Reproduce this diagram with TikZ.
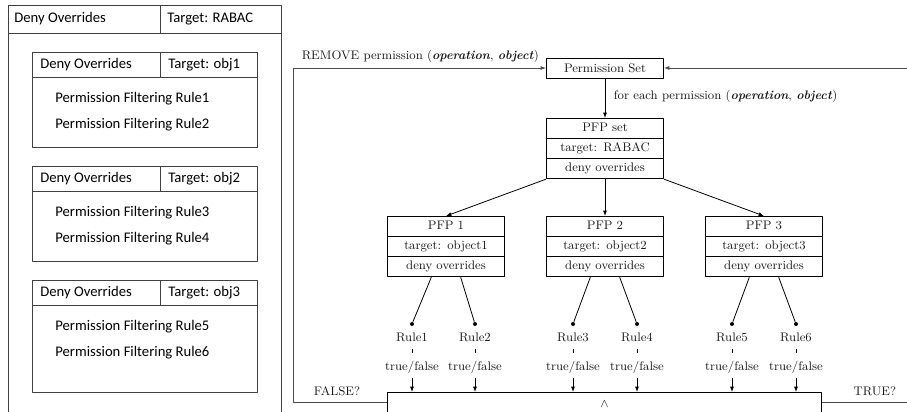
\documentclass[tikz,border=0pt]{standalone}
\usepackage{fontspec}
\newfontfamily\calibri{Carlito}
\usetikzlibrary{arrows.meta}
\usetikzlibrary{positioning}
\usetikzlibrary{shapes.multipart}
\tikzset{
  panel/.style={draw=black!75, line width=0.7pt},
  sanstext/.style={font=\calibri\fontsize{11}{13}\selectfont, inner sep=0pt},
  serif/.style={font=\fontsize{9.3}{11}\selectfont, text=black!90},
  setbox/.style={draw, serif, text width=88pt, align=center, inner xsep=0pt, minimum height=15pt},
  pfpbox/.style={draw, serif, rectangle split, rectangle split parts=3, text width=88pt, align=center, inner xsep=0pt, inner ysep=1.75pt},
  ruledot/.style={circle, fill, inner sep=0pt, minimum size=3pt}
}
\begin{document}
\begin{tikzpicture}[x=0.75pt,y=-0.75pt,line join=round,>={Latex[length=4pt,width=3pt]},line width=0.6pt]
\clip (0,0) rectangle (907,411);
\draw[panel] (8,5) rectangle (281,440);
\draw[panel] (8,33) -- (281,33) (160,5) -- (160,33);
\node[sanstext, anchor=west] (tophdr) at (14,19) {Deny Overrides};
\node[sanstext, anchor=west] (toptgt) at (167,19) {Target: RABAC};
\foreach \t/\n/\a/\b/\h in {52/1/1/2/95,166/2/3/4/95,280/3/5/6/112}{
  \draw[panel] (32,\t) rectangle (257,{\t+\h});
  \draw[panel] (32,{\t+25}) -- (257,{\t+25}) (160,\t) -- (160,{\t+25});
  \node[sanstext, anchor=west] (hdr\n) at (40,{\t+12.5}) {Deny Overrides};
  \node[sanstext, anchor=west] (tgt\n) at (168,{\t+12.5}) {Target: obj\n};
  \node[sanstext, anchor=west] (pfr\a) at (55,{\t+47}) {Permission Filtering Rule\a};
  \node[sanstext, anchor=west] (pfr\b) at (55,{\t+73}) {Permission Filtering Rule\b};
}
\node[setbox] (perm) at (605,68) {Permission Set};
\node[pfpbox, anchor=north] (pfpset) at (605,118) {\strut PFP set\nodepart{second}\strut target: RABAC\nodepart{third}\strut deny overrides};
\node[pfpbox, anchor=north] (pfp1) at (446,216) {\strut PFP 1\nodepart{second}\strut target: object1\nodepart{third}\strut deny overrides};
\node[pfpbox, anchor=north] (pfp2) at (605,216) {\strut PFP 2\nodepart{second}\strut target: object2\nodepart{third}\strut deny overrides};
\node[pfpbox, anchor=north] (pfp3) at (764,216) {\strut PFP 3\nodepart{second}\strut target: object3\nodepart{third}\strut deny overrides};
\node[draw, minimum width=326pt, minimum height=40pt, inner sep=0pt, anchor=north] (andbox) at (604.5,392) {};
\node[serif, anchor=north, inner sep=1pt] (andsym) at ([yshift=-5pt]andbox.north) {$\wedge$};
\node[serif, anchor=west] (removetxt) at (297,56) {REMOVE permission (\textit{\textbf{operation}}, \textit{\textbf{object}})};
\node[serif, anchor=west] (foreachtxt) at (609,96) {for each permission (\textit{\textbf{operation}}, \textit{\textbf{object}})};
\node[serif, anchor=south west] (falsetxt) at (309,401) {FALSE?};
\node[serif, anchor=south east] (truetxt) at (901,401) {TRUE?};
\draw[->] (perm) -- (pfpset);
\draw[->] (pfpset.south west) -- (pfp1.north);
\draw[->] (pfpset) -- (pfp2);
\draw[->] (pfpset.south east) -- (pfp3.north);
\foreach \i/\x/\p/\s in {1/412/1/-11pt,2/475/1/11pt,3/573/2/-11pt,4/637/2/11pt,5/732/3/-11pt,6/796/3/11pt}{
  \node[ruledot] (dot\i) at (\x,324) {};
  \node[serif] (rl\i) at (\x,337) {Rule\i};
  \node[serif] (tf\i) at (\x,367) {true/false};
  \draw ([xshift=\s]pfp\p.south) -- (dot\i);
  \draw[shorten <=2pt, shorten >=2pt] (rl\i) -- (tf\i);
  \draw[->] (tf\i) -- (tf\i |- andbox.north);
}
\coordinate (fbot) at (293,402);
\coordinate (tbot) at (915,402);
\draw[->, black!70] (fbot -| andbox.west) -- (fbot) |- (perm.west);
\draw[->, black!70] (tbot -| andbox.east) -- (tbot) |- (perm.east);
\end{tikzpicture}
\end{document}
